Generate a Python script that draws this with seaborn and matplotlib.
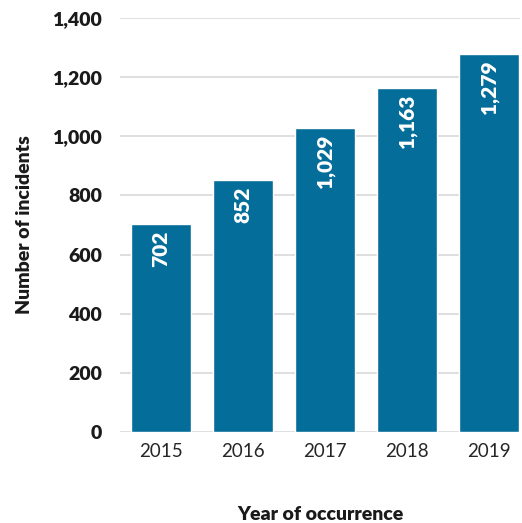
import matplotlib
matplotlib.use("Agg")
import matplotlib.pyplot as plt
import seaborn as sns
import pandas as pd

years = ["2015", "2016", "2017", "2018", "2019"]
incidents = [702, 852, 1029, 1163, 1279]
y_ticks = [0, 200, 400, 600, 800, 1000, 1200, 1400]

sns.set_style("white")
plt.rcParams['font.family'] = ['Lato', 'DejaVu Sans']

df = pd.DataFrame({"year": years, "n": incidents})
fig = plt.figure(figsize=(5.22, 5.23), dpi=100)
ax = fig.add_axes([120/522, 1-432/523, 400/522, 414/523])
sns.barplot(data=df, x="year", y="n", color="#046D99", saturation=1, width=0.73, ax=ax, zorder=3)
ax.set_xlim(-0.5, -0.5 + 400/82)
ax.set_ylim(0, 1400)
ax.set_yticks(y_ticks)
ax.set_yticklabels([f"{v:,}" for v in y_ticks], fontsize=14, fontweight="heavy", color="#1a1a1a")
ax.tick_params(axis="x", labelsize=13.5, colors="#262626", length=0, pad=8)
ax.tick_params(axis="y", length=0, pad=13)
ax.grid(axis="y", color="#D9D9D9", linewidth=1.2, zorder=0)
for s in ax.spines.values():
    s.set_visible(False)
for i, v in enumerate(incidents):
    ax.text(i, v - 22, f"{v:,}", rotation=90, ha="center", va="top", color="white",
            fontsize=15, fontweight="heavy", zorder=4)
ax.set_xlabel("Year of occurrence", fontsize=14, fontweight="heavy", color="#1a1a1a", labelpad=33)
ax.set_ylabel("Number of incidents", fontsize=14, fontweight="heavy", color="#1a1a1a", labelpad=14)
fig.savefig("out.png", dpi=100)
